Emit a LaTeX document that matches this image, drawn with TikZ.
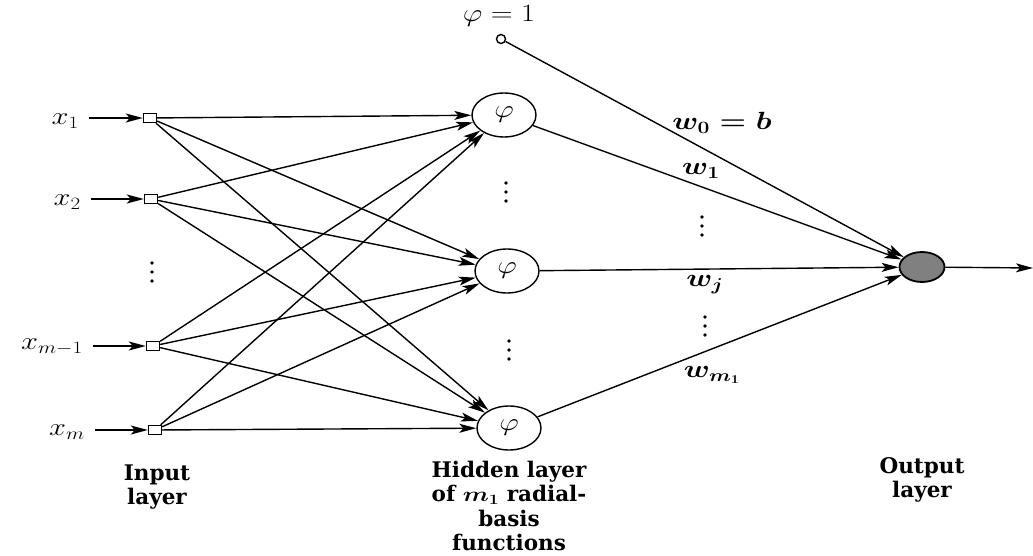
\documentclass[tikz,border=0pt]{standalone}
\usepackage{fontspec}
\usepackage{graphicx}
\setmainfont{DejaVu Serif}
\usetikzlibrary{shapes.geometric,arrows.meta}
\newcommand{\stretchx}[1]{\scalebox{1.22}[1]{#1}}
\begin{document}
\begin{tikzpicture}[x=1pt,y=-1pt,
  inp/.style={draw, rectangle, minimum width=13pt, minimum height=9pt, inner sep=0pt, line width=1.4pt, fill=white},
  hid/.style={draw, ellipse, minimum width=64pt, minimum height=44pt, inner sep=0pt, line width=1.4pt, font=\fontsize{26}{28}\selectfont},
  outn/.style={draw, ellipse, minimum width=45pt, minimum height=30pt, inner sep=0pt, line width=1.8pt, fill=black!50},
  bias/.style={draw, circle, minimum size=9pt, inner sep=0pt, line width=1.4pt},
  arr/.style={-{Stealth[length=17pt,width=9pt,inset=4pt]}, line width=1.4pt},
  lab/.style={inner sep=1pt, font=\fontsize{27}{28}\selectfont},
  wlab/.style={inner sep=1pt, font=\fontsize{25}{28}\selectfont\boldmath},
  dot/.style={circle, fill=black, inner sep=0pt, minimum size=3.8pt},
  captxt/.style={align=center, font=\fontsize{21.5}{24.5}\selectfont\bfseries\boldmath}]
\useasboundingbox (0,0) rectangle (1033,556);
% input nodes
\node[inp] (i1) at (150,118) {};
\node[inp] (i2) at (151,199) {};
\node[inp] (i3) at (153,346) {};
\node[inp] (i4) at (155,430) {};
\node[lab, anchor=east] (x1) at (80,121) {\stretchx{$x_1$}};
\node[lab, anchor=east] (x2) at (82,202) {\stretchx{$x_2$}};
\node[lab, anchor=east] (x3) at (84,347) {\stretchx{$x_{m-1}$}};
\node[lab, anchor=east] (x4) at (86,432) {\stretchx{$x_m$}};
\coordinate (s1) at (89,118);
\coordinate (s2) at (91,199);
\coordinate (s3) at (93,346);
\coordinate (s4) at (95,430);
\draw[arr] (s1) -- (i1);
\draw[arr] (s2) -- (i2);
\draw[arr] (s3) -- (i3);
\draw[arr] (s4) -- (i4);
\node[dot] (d01) at (152,263) {};
\node[dot] (d02) at (152,272) {};
\node[dot] (d03) at (152,281) {};
% hidden
\node[hid] (h1) at (504,115) {\stretchx{$\varphi$}};
\node[hid] (h2) at (507,271) {\stretchx{$\varphi$}};
\node[hid] (h3) at (509,428) {\stretchx{$\varphi$}};
\node[dot] (d11) at (506,183) {};
\node[dot] (d12) at (506,192) {};
\node[dot] (d13) at (506,201) {};
\node[dot] (d21) at (509,341) {};
\node[dot] (d22) at (509,350) {};
\node[dot] (d23) at (509,359) {};
\foreach \i in {1,2,3,4}{
  \foreach \h in {1,2,3}{
    \draw[arr] (i\i) -- (h\h);
  }
}
% bias
\node[bias] (b) at (501,39) {};
\node[lab, font=\fontsize{24}{26}\selectfont] (bl) at (499,16) {\stretchx{$\varphi = 1$}};
% output
\node[outn] (o) at (922,267) {};
\coordinate (oe) at (1033,268);
\draw[arr] (b) -- (o);
\draw[arr] (h1) -- (o);
\draw[arr] (h2) -- (o);
\draw[arr] (h3) -- (o);
\draw[arr] (o) -- (oe);
% weight labels
\node[wlab] (w0) at (722,123) {\stretchx{$w_0 = b$}};
\node[wlab] (w1) at (701,171) {\stretchx{$w_1$}};
\node[dot] (d31) at (702,217) {};
\node[dot] (d32) at (702,226) {};
\node[dot] (d33) at (702,235) {};
\node[wlab] (wj) at (705,285) {\stretchx{$w_j$}};
\node[dot] (d41) at (705,317) {};
\node[dot] (d42) at (705,326) {};
\node[dot] (d43) at (705,335) {};
\node[wlab] (wm) at (712,375) {\stretchx{$w_{m_1}$}};
% captions
\node[captxt] (c1) at (157,487) {Input\\layer};
\node[captxt] (c2) at (509,506) {Hidden layer\\of \stretchx{$m_1$} radial-\\basis\\functions};
\node[captxt] (c3) at (922,480) {Output\\layer};
\end{tikzpicture}
\end{document}
